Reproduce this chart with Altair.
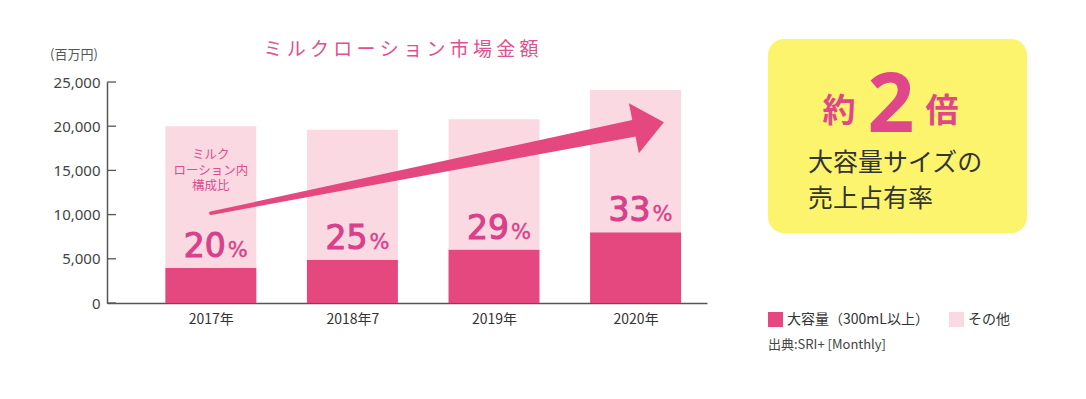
import altair as alt
import pandas as pd

# ---- data ----
years = ["2017年", "2018年7", "2019年", "2020年"]
totals = [20000, 19600, 20800, 24100]
large = [4000, 4900, 6050, 8000]
shares = ["20", "25", "29", "33"]
y_ticks = [0, 5000, 10000, 15000, 20000, 25000]
segments = ["大容量（300mL以上）", "その他"]
note_lines = "ミルク\nローション内\n構成比"
title_text = "ミ ル ク ロ ー シ ョ ン 市 場 金 額"
unit_text = "(百万円)"
source_text = "出典:SRI+ [Monthly]"
box_line1 = "大容量サイズの"
box_line2 = "売上占有率"

# arrow (data coordinates: year index, value)
arrow_x = [0, 3.02]
arrow_y = [10150, 19870]
arrow_w = [3.5, 17]
head_x = [3.094]
head_y = [20100]
note_x = [0]
note_y = [16700]

DARK = "#e4487f"
LIGHT = "#fad9e3"
PINK = "#d8408a"
YELLOW = "#fcf46c"
JP = "Noto Sans CJK JP"

idx = list(range(len(years)))
rows = []
for i in idx:
    rows.append({"idx": i, "lo": 0, "hi": large[i], "segment": segments[0]})
    rows.append({"idx": i, "lo": large[i], "hi": totals[i], "segment": segments[1]})
bars_df = pd.DataFrame(rows)
lab_df = pd.DataFrame({"idx": idx, "large": large, "share": shares})
tick_df = pd.DataFrame({"v": y_ticks})
arrow_df = pd.DataFrame({"x": arrow_x, "y": arrow_y, "w": arrow_w})
head_df = pd.DataFrame({"x": head_x, "y": head_y})
note_df = pd.DataFrame({"x": note_x, "y": note_y, "t": [note_lines]})
one = pd.DataFrame({"a": [0]})

label_expr = "[" + ",".join("'%s'" % y for y in years) + "][datum.value]"

xscale = alt.Scale(domain=[-0.698, 3.469], nice=False, zero=False)
yscale = alt.Scale(domain=[0, 25000], nice=False)

bars = alt.Chart(bars_df).mark_bar(size=91).encode(
    x=alt.X("idx:Q", scale=xscale,
            axis=alt.Axis(values=idx, labelExpr=label_expr, ticks=False, tickSize=0,
                          grid=False, domainColor="#555", domainWidth=1.5,
                          labelFont=JP, labelFontSize=14, labelColor="#333",
                          labelPadding=9, title=None, labelAngle=0)),
    y=alt.Y("lo:Q", scale=yscale,
            axis=alt.Axis(values=y_ticks, format=",d", ticks=False, tickSize=0,
                          grid=False, domainColor="#555", domainWidth=1.5,
                          labelFont="Noto Sans", labelFontSize=15, labelColor="#444",
                          labelPadding=7, title=None)),
    y2="hi:Q",
    color=alt.Color("segment:N", scale=alt.Scale(domain=segments, range=[DARK, LIGHT]),
                    legend=alt.Legend(orient="none", legendX=661, legendY=230,
                                      direction="horizontal", title=None,
                                      symbolType="square", symbolSize=225,
                                      symbolStrokeWidth=0, symbolOpacity=1,
                                      labelFont=JP, labelFontSize=14, labelColor="#333",
                                      columnPadding=20, labelOffset=4, padding=0)),
)

ticks = alt.Chart(tick_df).mark_rule(color="#555", strokeWidth=1.3).encode(
    y=alt.Y("v:Q", scale=yscale), x=alt.value(0), x2=alt.value(9)
)

nums = alt.Chart(lab_df).mark_text(
    font="DejaVu Sans", fontSize=33, color=PINK, stroke=PINK, strokeWidth=1.1,
    align="right", baseline="alphabetic", dx=15, dy=-11
).encode(x=alt.X("idx:Q", scale=xscale), y=alt.Y("large:Q", scale=yscale), text="share:N")

pcts = alt.Chart(lab_df).mark_text(
    font="DejaVu Sans", fontSize=21, color=PINK, stroke=PINK, strokeWidth=0.4,
    align="left", baseline="alphabetic", dx=17, dy=-11
).encode(x=alt.X("idx:Q", scale=xscale), y=alt.Y("large:Q", scale=yscale), text=alt.value("%"))

note = alt.Chart(note_df).mark_text(
    font=JP, fontSize=12.5, color="#dc4f8f", align="center", baseline="middle",
    lineBreak="\n", lineHeight=15.5
).encode(x=alt.X("x:Q", scale=xscale), y=alt.Y("y:Q", scale=yscale), text="t:N")

trail = alt.Chart(arrow_df).mark_trail(color=DARK).encode(
    x=alt.X("x:Q", scale=xscale), y=alt.Y("y:Q", scale=yscale),
    size=alt.Size("w:Q", scale=None, legend=None)
)

head = alt.Chart(head_df).mark_point(
    shape="M -0.6 -1 L 0.6 0 L -0.6 1 Z", filled=True, size=2601, angle=348.8,
    color=DARK, opacity=1, strokeWidth=0
).encode(x=alt.X("x:Q", scale=xscale), y=alt.Y("y:Q", scale=yscale))

box = alt.Chart(one).mark_rect(color=YELLOW, cornerRadius=16).encode(
    x=alt.value(661), x2=alt.value(920), y=alt.value(-43), y2=alt.value(151)
)

def txt(s, x, y, size, color, weight="normal", align="center", baseline="middle", font=JP):
    return alt.Chart(one).mark_text(
        text=s, font=font, fontSize=size, color=color, fontWeight=weight,
        align=align, baseline=baseline
    ).encode(x=alt.value(x), y=alt.value(y))

yaku = txt("約", 732, 30, 33, "#e0478a", weight="bold")
two = txt("2", 784, 50, 82, "#e0478a", weight="bold", baseline="alphabetic", font="Noto Sans")
bai = txt("倍", 835, 30, 33, "#e0478a", weight="bold")
l1 = txt(box_line1, 701, 81, 25, "#333", align="left")
l2 = txt(box_line2, 701, 117, 25, "#333", align="left")
title = txt(title_text, 294, -32, 19, "#e0508c")
unit = txt(unit_text, -33, -27, 13, "#555")
src = txt(source_text, 661, 263, 13, "#444", align="left")

chart = alt.layer(
    box, bars, ticks, trail, head, nums, pcts, note,
    yaku, two, bai, l1, l2, title, unit, src
).properties(
    width=600, height=221,
    padding={"left": 99, "top": 74, "right": 360, "bottom": 80},
    autosize=alt.AutoSizeParams(type="none"),
    background="white",
).configure_view(stroke=None)

chart.save("out.html", embed_options={"renderer": "svg", "actions": False})
